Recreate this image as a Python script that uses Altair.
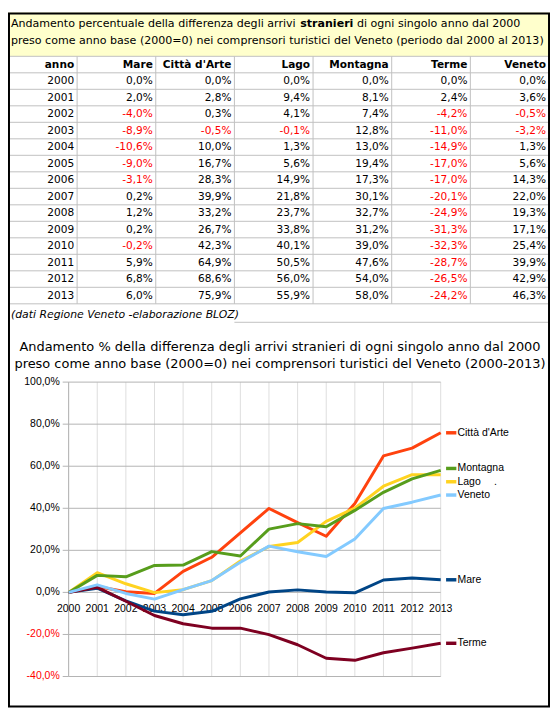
import altair as alt
import pandas as pd

# ---------------- data ----------------
anni = list(range(2000, 2014))
mare     = [0.0, 2.0, -4.0, -8.9, -10.6, -9.0, -3.1, 0.2, 1.2, 0.2, -0.2, 5.9, 6.8, 6.0]
citta    = [0.0, 2.8, 0.3, -0.5, 10.0, 16.7, 28.3, 39.9, 33.2, 26.7, 42.3, 64.9, 68.6, 75.9]
lago     = [0.0, 9.4, 4.1, -0.1, 1.3, 5.6, 14.9, 21.8, 23.7, 33.8, 40.1, 50.5, 56.0, 55.9]
montagna = [0.0, 8.1, 7.4, 12.8, 13.0, 19.4, 17.3, 30.1, 32.7, 31.2, 39.0, 47.6, 54.0, 58.0]
terme    = [0.0, 2.4, -4.2, -11.0, -14.9, -17.0, -17.0, -20.1, -24.9, -31.3, -32.3, -28.7, -26.5, -24.2]
veneto   = [0.0, 3.6, -0.5, -3.2, 1.3, 5.6, 14.3, 22.0, 19.3, 17.1, 25.4, 39.9, 42.9, 46.3]

serie = ["Mare", "Città d'Arte", "Lago", "Montagna", "Terme", "Veneto"]
valori = [mare, citta, lago, montagna, terme, veneto]
colori = ["#004586", "#FF420E", "#FFD320", "#579D1C", "#7E0021", "#83CAFF"]
intestazioni = ["anno"] + serie
y_ticks = [-40, -20, 0, 20, 40, 60, 80, 100]
y_tick_labels = ["-40,0%", "-20,0%", "0,0%", "20,0%", "40,0%", "60,0%", "80,0%", "100,0%"]

titolo_tab_1a = "Andamento percentuale della differenza degli arrivi"
titolo_tab_1b = "stranieri"
titolo_tab_1c = "di ogni singolo anno dal 2000"
titolo_tab_2 = "preso come anno base (2000=0) nei comprensori turistici del Veneto (periodo dal 2000 al 2013)"
nota = "(dati Regione Veneto -elaborazione BLOZ)"
titolo_graf = ["Andamento % della differenza degli arrivi stranieri di ogni singolo anno dal 2000",
               "preso come anno base (2000=0) nei comprensori turistici del Veneto (2000-2013)"]

# ---------------- layout / style ----------------
W, H = 549, 704
HEAD_H = 44.4
F_TAB = "DejaVu Sans"
F_AX = "Liberation Sans"
GRID_TAB = "#C0C0C0"


def fmt(v):
    return f"{v:.1f}".replace(".", ",") + "%"


one = pd.DataFrame({"k": [0]})

# ---------------- header (yellow box) ----------------
header = alt.layer(
    alt.Chart(one).mark_rect(fill="#FFFFCC").encode(
        x=alt.value(0), x2=alt.value(W), y=alt.value(0), y2=alt.value(HEAD_H)),
    alt.Chart(one).mark_text(text=titolo_tab_1a, x=3, y=12, align="left", baseline="middle",
                             font=F_TAB, fontSize=11.2, color="black"),
    alt.Chart(one).mark_text(text=titolo_tab_1b, x=296, y=12, align="left", baseline="middle",
                             font=F_TAB, fontSize=11.2, fontWeight="bold", color="black"),
    alt.Chart(one).mark_text(text=titolo_tab_1c, x=353.5, y=12, align="left", baseline="middle",
                             font=F_TAB, fontSize=11.2, color="black"),
    alt.Chart(one).mark_text(text=titolo_tab_2, x=3, y=29, align="left", baseline="middle",
                             font=F_TAB, fontSize=11.2, color="black"),
)

# ---------------- table ----------------
rows = []
for i, a in enumerate(anni):
    rows.append({"c": 0, "r": i + 1.5, "lab": str(a), "neg": False})
    for j, vals in enumerate(valori):
        rows.append({"c": j + 1, "r": i + 1.5, "lab": fmt(vals[i]), "neg": bool(vals[i] < 0)})
df_tab = pd.DataFrame(rows)
df_head = pd.DataFrame({"c": list(range(len(intestazioni))), "r": [0.5] * len(intestazioni),
                        "lab": intestazioni})
n_rows = len(anni) + 1
df_hl = pd.DataFrame({"r": list(range(n_rows + 1))})
df_vl = pd.DataFrame({"c": list(range(len(intestazioni) - 1)), "r0": 0, "r1": n_rows})
df_sep = pd.DataFrame({"c0": [2], "c1": [len(intestazioni) - 1]})

tx = alt.Scale(domain=[0, len(intestazioni) - 1], range=[70, 548], nice=False, zero=False)
ty = alt.Scale(domain=[0, n_rows], range=[HEAD_H, 295.1], nice=False, zero=False)

table = alt.layer(
    alt.Chart(df_hl).mark_rule(color=GRID_TAB, strokeWidth=1).encode(
        y=alt.Y("r:Q", scale=ty, axis=None), x=alt.value(0), x2=alt.value(W)),
    alt.Chart(df_vl).mark_rule(color=GRID_TAB, strokeWidth=1).encode(
        x=alt.X("c:Q", scale=tx, axis=None),
        y=alt.Y("r0:Q", scale=ty, axis=None), y2="r1:Q"),
    alt.Chart(df_sep).mark_rule(color=GRID_TAB, strokeWidth=1).encode(
        x=alt.X("c0:Q", scale=tx, axis=None), x2="c1:Q", y=alt.value(313.8)),
    alt.Chart(df_head).mark_text(align="right", baseline="middle", dx=-3, font=F_TAB,
                                 fontSize=10.7, fontWeight="bold", color="black").encode(
        x=alt.X("c:Q", scale=tx, axis=None), y=alt.Y("r:Q", scale=ty, axis=None), text="lab:N"),
    alt.Chart(df_tab).mark_text(align="right", baseline="middle", dx=-3, font=F_TAB,
                                fontSize=10.7).encode(
        x=alt.X("c:Q", scale=tx, axis=None), y=alt.Y("r:Q", scale=ty, axis=None), text="lab:N",
        color=alt.condition("datum.neg", alt.value("#FF0000"), alt.value("#000000"))),
    alt.Chart(one).mark_text(text=nota, x=3, y=306, align="left", baseline="middle",
                             font=F_TAB, fontSize=11, fontStyle="italic", color="black"),
)

# ---------------- line chart ----------------
xs = alt.Scale(domain=[anni[0], anni[-1]], range=[61.4, 438.3], nice=False, zero=False)
ys = alt.Scale(domain=[y_ticks[0], y_ticks[-1]], range=[672.6, 374.4], nice=False, zero=False)
X = alt.X("anno:Q", scale=xs, axis=None)
Y = alt.Y("valore:Q", scale=ys, axis=None)

df_lines = pd.DataFrame([{"anno": a, "valore": v, "serie": s}
                         for s, vals in zip(serie, valori) for a, v in zip(anni, vals)])
df_vg = pd.DataFrame({"anno": anni, "valore": y_ticks[-1], "valore2": y_ticks[0]})
df_hg = pd.DataFrame({"valore": y_ticks, "anno": anni[0], "anno2": anni[-1], "lab": y_tick_labels})
df_xl = pd.DataFrame({"anno": anni, "valore": 0, "lab": [str(a) for a in anni]})
df_last = pd.DataFrame({"serie": serie, "anno": anni[-1], "valore": [v[-1] for v in valori]})

col_scale = alt.Scale(domain=serie, range=colori)

plot_layers = [
    alt.Chart(df_vg).mark_rule(color="#DDDDDD", strokeWidth=1).encode(x=X, y=Y, y2="valore2:Q"),
    alt.Chart(df_hg).mark_rule(color="#B3B3B3", strokeWidth=1).encode(y=Y, x=X, x2="anno2:Q"),
    alt.Chart(df_hg).mark_point(shape="M-1,0L0,0", size=144, filled=False, opacity=1,
                                color="#B3B3B3", strokeWidth=1).encode(x=X, y=Y),
    alt.Chart(df_vg).transform_filter(alt.datum.anno == anni[0]).mark_rule(
        color="#B3B3B3", strokeWidth=1).encode(x=X, y=Y, y2="valore2:Q"),
    alt.Chart(df_hg).mark_text(align="right", baseline="middle", dx=-9, font=F_AX,
                               fontSize=10.6).encode(
        x=X, y=Y, text="lab:N",
        color=alt.condition("datum.valore < 0", alt.value("#FF0000"), alt.value("#000000"))),
    alt.Chart(df_xl).mark_text(align="center", baseline="middle", dy=16.8, font=F_AX,
                               fontSize=10.6, color="black").encode(x=X, y=Y, text="lab:N"),
]
for s, c in zip(serie, colori):
    plot_layers.append(
        alt.Chart(df_lines).transform_filter(alt.datum.serie == s).mark_line(
            color=c, strokeWidth=3, strokeJoin="round").encode(x=X, y=Y))

# labels at the end of each line (name + short coloured segment)
# vertical nudges (in px) keep the crowded Montagna / Lago labels apart
nudge = {"Montagna": -2, "Lago": 7}
for s in serie:
    d = nudge.get(s, 0)
    base = alt.Chart(df_last).transform_filter(alt.datum.serie == s)
    plot_layers.append(
        base.mark_point(shape=f"M0.34,{d / 16}L0.99,{d / 16}", size=1024, filled=False,
                        opacity=1, strokeWidth=3.5).encode(
            x=X, y=Y, color=alt.Color("serie:N", scale=col_scale, legend=None)))
    plot_layers.append(
        base.mark_text(align="left", baseline="middle", dx=17, dy=d, font=F_AX, fontSize=10.6,
                       color="black").encode(x=X, y=Y, text="serie:N"))
    if s == "Lago":
        plot_layers.append(
            base.mark_text(text=".", align="left", baseline="middle", dx=54, dy=d, font=F_AX,
                           fontSize=10.6, color="black").encode(x=X, y=Y))
plot = alt.layer(*plot_layers)

titles = alt.layer(
    alt.Chart(one).mark_text(text=titolo_graf[0], x=275.5, y=338.5, align="center",
                             baseline="middle", font=F_TAB, fontSize=13.1, color="black"),
    alt.Chart(one).mark_text(text=titolo_graf[1], x=275.5, y=356.5, align="center",
                             baseline="middle", font=F_TAB, fontSize=13.1, color="black"),
)

border = alt.Chart(one).mark_rect(fillOpacity=0, stroke="black", strokeWidth=2).encode(
    x=alt.value(1), x2=alt.value(W - 1), y=alt.value(1), y2=alt.value(H - 1))

chart = alt.layer(header, table, titles, plot, border).resolve_scale(
    x="independent", y="independent"
).properties(
    width=W, height=H, padding=0, autosize=alt.AutoSizeParams(type="none"), background="white"
).configure_view(strokeWidth=0)

chart.save("out.html", embed_options={"renderer": "svg", "actions": False})
